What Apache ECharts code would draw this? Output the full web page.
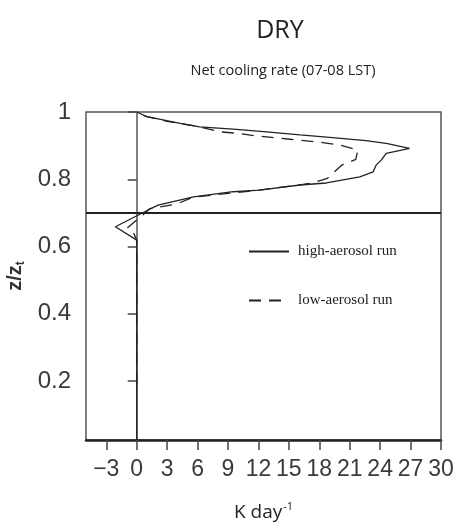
<!DOCTYPE html>
<html><head><meta charset="utf-8">
<script src="https://cdn.jsdelivr.net/npm/echarts@6/dist/echarts.min.js"></script>
<style>html,body{margin:0;padding:0;background:#fff}#c{width:456px;height:525px}</style>
</head><body><div id="c"></div>
<script>
// high-aerosol run (solid): cooling rate (K/day) vs z/zt
const highX = [0, 0, -2.1, 0.5, 2.1, 5.6, 9.5, 12.1, 16.1, 18.7, 22.0, 23.3, 23.6, 24.1, 24.6, 26.9, 24.6, 22.6, 19.3, 16.1, 12.8, 9.5, 6.2, 4.3, 1.0, 0];
const highZ = [0.025, 0.619, 0.659, 0.699, 0.723, 0.748, 0.763, 0.768, 0.783, 0.789, 0.807, 0.822, 0.842, 0.857, 0.877, 0.892, 0.907, 0.915, 0.924, 0.932, 0.941, 0.949, 0.956, 0.966, 0.986, 1.0];
// low-aerosol run (dashed)
const lowX = [0, 0, -0.3, -0.9, 0.8, 1.3, 3.9, 5.6, 12.1, 17.2, 18.8, 20.2, 21.6, 21.8, 20.0, 18.35, 15.1, 11.8, 9.8, 8.2, 6.2, 3.0, 0.8, 0];
const lowZ = [0.19, 0.619, 0.64, 0.656, 0.699, 0.713, 0.726, 0.747, 0.768, 0.788, 0.803, 0.842, 0.859, 0.887, 0.902, 0.909, 0.919, 0.929, 0.937, 0.941, 0.956, 0.972, 0.988, 1.0];
const xTicks = [-3, 0, 3, 6, 9, 12, 15, 18, 21, 24, 27, 30];
const yTicks = [0.2, 0.4, 0.6, 0.8, 1];
const layerTop = 0.7;
const seriesNames = ['high-aerosol run', 'low-aerosol run'];

const zip = (xs, ys) => xs.map((x, i) => [x, ys[i]]);
const chart = echarts.init(document.getElementById('c'));
const lab = '#3a3a3a';
const cond = "'Open Sans',sans-serif";
chart.setOption({
  animation: false,
  backgroundColor: '#fff',
  title: [
    {text: 'DRY', left: 275, top: 13, textAlign: 'center',
     textStyle: {fontFamily: cond, fontSize: 25, fontWeight: 'normal', color: '#222'}},
    {text: 'Net cooling rate (07-08 LST)', left: 278, top: 58, textAlign: 'center',
     textStyle: {fontFamily: cond, fontSize: 14.5, fontWeight: 'normal', color: '#222'}}
  ],
  legend: {
    orient: 'vertical', left: 243, top: 239, itemWidth: 40, itemHeight: 14, itemGap: 34,
    data: seriesNames,
    itemStyle: {opacity: 0},
    textStyle: {fontFamily: "'Liberation Serif',serif", fontSize: 15, color: '#222', padding: [0, 0, 0, 4]}
  },
  grid: {left: 86, right: 15, top: 112, bottom: 85, outerBoundsMode: 'none', containLabel: false,
         show: true, borderColor: '#555', borderWidth: 1.5},
  xAxis: {
    type: 'value', min: -5, max: 30,
    name: '{a|K day}{b|-1}', nameLocation: 'middle', nameGap: 61,
    nameTextStyle: {rich: {
      a: {fontFamily: cond, fontSize: 19, color: '#222'},
      b: {fontFamily: cond, fontSize: 11, color: '#222', padding: [0, 0, 12, 1]}
    }},
    axisLine: {show: true, lineStyle: {color: '#222', width: 2.5}},
    axisTick: {show: true, inside: false, length: 10, customValues: xTicks, lineStyle: {color: '#444', width: 1.5}},
    axisLabel: {customValues: xTicks, margin: 18, fontSize: 23, color: lab, fontFamily: "'Liberation Sans',sans-serif",
      formatter: v => (v < 0 ? '\u2212' + Math.abs(v) : String(v))},
    splitLine: {show: false}
  },
  yAxis: {
    type: 'value', min: 0.025, max: 1,
    name: '{a|z/z}{b|t}', nameLocation: 'middle', nameGap: 54, nameRotate: 90,
    nameTextStyle: {rich: {
      a: {fontFamily: "'Liberation Sans',sans-serif", fontSize: 20, fontWeight: 'bold', color: '#333'},
      b: {fontFamily: "'Liberation Sans',sans-serif", fontSize: 12, fontWeight: 'bold', color: '#333', padding: [10, 0, 0, 0]}
    }},
    axisLine: {show: true, lineStyle: {color: '#555', width: 1.5}},
    axisTick: {show: true, inside: false, length: 9, customValues: yTicks, lineStyle: {color: '#444', width: 1.5}},
    axisLabel: {customValues: yTicks, margin: 15, fontSize: 24, color: lab, fontFamily: "'Liberation Sans',sans-serif",
      formatter: v => (v === 1 ? '1' : v.toFixed(1))},
    splitLine: {show: false}
  },
  series: [
    {name: seriesNames[0], type: 'line', data: zip(highX, highZ), symbol: 'none', z: 3,
     lineStyle: {color: '#222', width: 1.3, type: 'solid'}, itemStyle: {color: '#222'},
     markLine: {silent: true, symbol: 'none', label: {show: false},
       lineStyle: {color: '#222', width: 1.8, type: 'solid'}, data: [{yAxis: layerTop}]}},
    {name: seriesNames[1], type: 'line', data: zip(lowX, lowZ), symbol: 'none', z: 2,
     lineStyle: {color: '#222', width: 1.3, type: [12, 8]}, itemStyle: {color: '#222'}}
  ]
});
</script></body></html>
